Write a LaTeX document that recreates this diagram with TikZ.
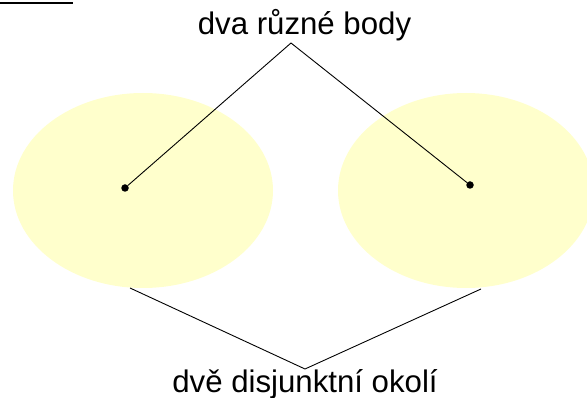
\documentclass[tikz,border=0pt]{standalone}
\usepackage{fontspec}
\setmainfont{Liberation Sans}
\definecolor{paleyellow}{HTML}{FFFFCC}
\begin{document}
\begin{tikzpicture}[x=1pt,y=-1pt,
  lbl/.style={inner sep=0pt,font=\fontsize{31.2}{36}\selectfont},
  pt/.style={circle,fill=black,inner sep=0pt,minimum size=7.5pt},
  conn/.style={draw=black,line width=0.9pt},
  area/.style={fill=paleyellow}]
\useasboundingbox (0,0) rectangle (587,398);
\clip (0,0) rectangle (587,398);
\fill[area] (143,190.5) ellipse [x radius=130, y radius=97.5];
\fill[area] (466,190.5) ellipse [x radius=128, y radius=97.5];
\draw[line width=2pt] (0,3.3) -- (73,3.3);
\node[lbl,anchor=base] (top) at (304.5,35) {dva různé body};
\node[lbl,anchor=base] (bot) at (305,392) {dvě disjunktní okolí};
\coordinate (apexT) at (291,43);
\coordinate (apexB) at (305,369);
\node[pt] (p1) at (125,188) {};
\node[pt] (p2) at (470,185) {};
\coordinate (e1) at (130,288);
\coordinate (e2) at (481,289);
\draw[conn] (p1) -- (apexT) -- (p2);
\draw[conn] (e1) -- (apexB) -- (e2);
\end{tikzpicture}
\end{document}
